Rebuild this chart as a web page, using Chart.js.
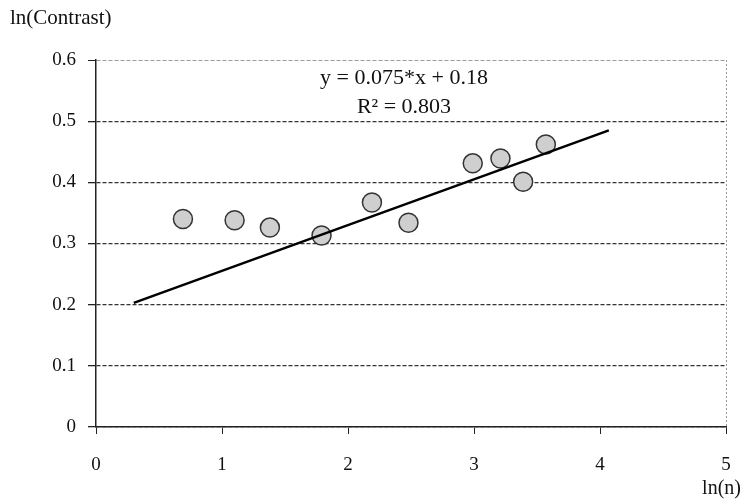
<!DOCTYPE html>
<html>
<head>
<meta charset="utf-8">
<script src="https://cdn.jsdelivr.net/npm/chart.js@4/dist/chart.umd.min.js"></script>
<style>
  body { margin: 0; background: #fff; }
  canvas { display: block; }
</style>
</head>
<body>
<canvas id="contrast" width="741" height="499"></canvas>
<script>
// measured points, ln(n) against ln(Contrast)
const lnN = [0.69, 1.10, 1.38, 1.79, 2.19, 2.48, 2.99, 3.21, 3.39, 3.57];
const lnContrast = [0.340, 0.338, 0.326, 0.313, 0.367, 0.334, 0.431, 0.439, 0.401, 0.462];

// ends of the fitted line as drawn
const trendX = [0.30, 4.07];
const trendY = [0.203, 0.485];

const xTicks = [0, 1, 2, 3, 4, 5];
const yTicks = [0, 0.1, 0.2, 0.3, 0.4, 0.5, 0.6];

const yTitle = 'ln(Contrast)';
const xTitle = 'ln(n)';
const equation = 'y = 0.075*x + 0.18';
const rSquared = 'R\u00B2 = 0.803';

const serif = '"Liberation Serif", "DejaVu Serif", serif';

const textPlugin = {
  id: 'textPlugin',
  afterDraw(chart) {
    const ctx = chart.ctx;
    ctx.save();
    ctx.fillStyle = '#111';
    ctx.textBaseline = 'alphabetic';

    ctx.font = '21px ' + serif;
    ctx.textAlign = 'left';
    ctx.fillText(yTitle, 10, 24);
    ctx.font = '20px ' + serif;
    ctx.textAlign = 'right';
    ctx.fillText(xTitle, 741, 494);

    ctx.font = '22px ' + serif;
    ctx.textAlign = 'center';
    ctx.fillText(equation, 404, 84);
    ctx.fillText(rSquared, 404, 113);
    ctx.restore();
  }
};

new Chart(document.getElementById('contrast'), {
  type: 'scatter',
  data: {
    datasets: [
      {
        label: 'data',
        data: lnN.map((x, i) => ({ x: x, y: lnContrast[i] })),
        backgroundColor: '#cfcfcf',
        borderColor: '#333',
        borderWidth: 1.5,
        pointRadius: 9.5,
        pointHoverRadius: 9.5,
        order: 1
      },
      {
        label: 'trend',
        data: trendX.map((x, i) => ({ x: x, y: trendY[i] })),
        showLine: true,
        borderColor: '#000',
        borderWidth: 2.5,
        pointRadius: 0,
        fill: false,
        order: 0
      }
    ]
  },
  plugins: [textPlugin],
  options: {
    responsive: false,
    animation: false,
    layout: {
      padding: { left: 0, top: 60, right: 15, bottom: 0 }
    },
    plugins: {
      legend: { display: false },
      tooltip: { enabled: false }
    },
    scales: {
      x: {
        type: 'linear',
        min: 0,
        max: 5,
        afterBuildTicks: (scale) => {
          scale.ticks = xTicks.map((v) => ({ value: v }));
        },
        afterFit: (scale) => {
          scale.height = 72;
          scale.paddingLeft = 0;
          scale.paddingRight = 0;
        },
        ticks: {
          font: { family: serif, size: 19 },
          color: '#111',
          padding: 20
        },
        grid: {
          color: (c) => (c.tick && c.tick.value === 5 ? '#9a9a9a' : 'rgba(0,0,0,0)'),
          tickColor: '#222',
          tickLength: 7,
          drawTicks: true
        },
        border: {
          display: true,
          color: '#222',
          width: 1.5,
          dash: [2, 2]
        }
      },
      y: {
        type: 'linear',
        min: 0,
        max: 0.6,
        afterBuildTicks: (scale) => {
          scale.ticks = yTicks.map((v) => ({ value: v }));
        },
        afterFit: (scale) => {
          scale.width = 96;
          scale.paddingTop = 0;
          scale.paddingBottom = 0;
        },
        ticks: {
          font: { family: serif, size: 19 },
          color: '#111',
          padding: 12,
          callback: (v) => (v === 0 ? '0' : Number(v).toFixed(1))
        },
        grid: {
          color: (c) => (c.tick && c.tick.value === 0.6 ? '#9a9a9a' : '#333'),
          lineWidth: (c) => (c.tick && c.tick.value === 0.6 ? 1 : 1.3),
          tickColor: '#222',
          tickLength: 8
        },
        border: {
          display: true,
          color: '#222',
          width: 1.5,
          dash: [4, 2]
        }
      }
    }
  }
});
</script>
</body>
</html>
